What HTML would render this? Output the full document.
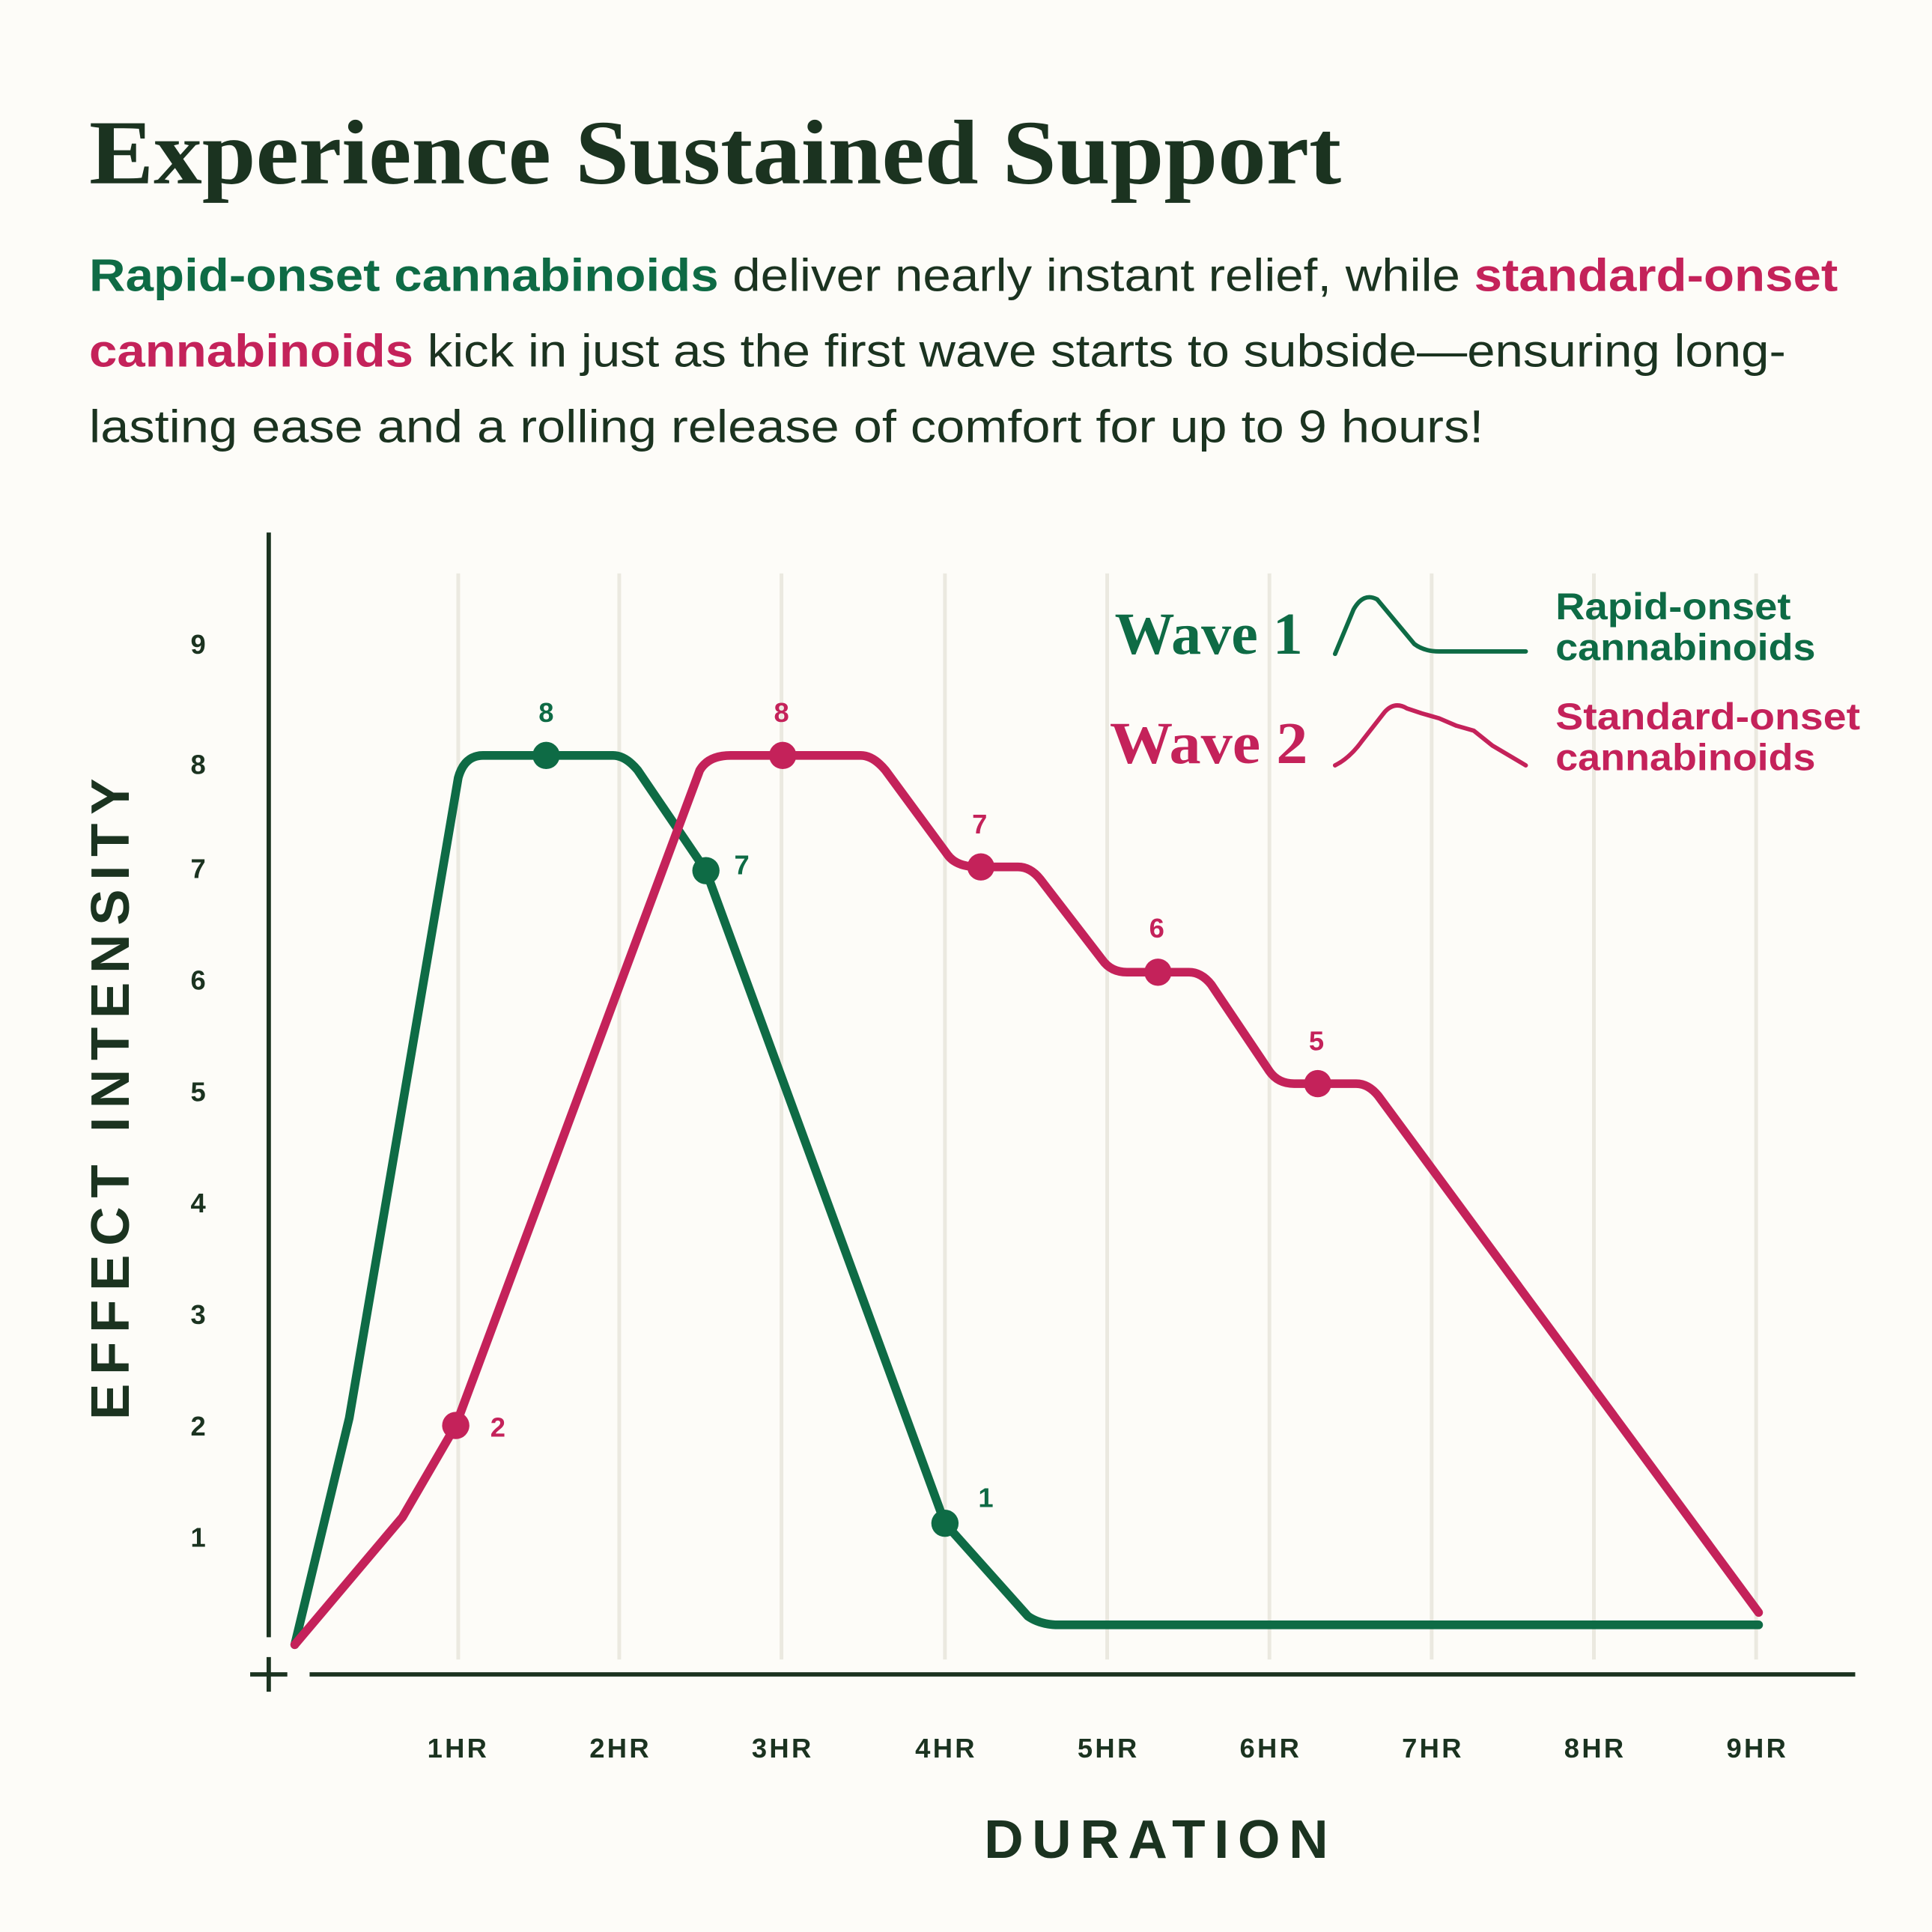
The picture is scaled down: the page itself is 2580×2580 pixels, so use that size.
<!DOCTYPE html>
<html><head><meta charset="utf-8"><style>
html,body{margin:0;padding:0;background:#fdfcf8}
svg{display:block}
text{font-family:"Liberation Sans",sans-serif}
.s{font-family:"Liberation Serif",serif;font-weight:bold}
</style></head><body>
<svg width="2580" height="2580" viewBox="0 0 1560 1560" xmlns="http://www.w3.org/2000/svg">
<rect width="1560" height="1560" fill="#fdfcf8"/>
<text class="s" x="72" y="148" font-size="74" fill="#1b3320" textLength="1011" lengthAdjust="spacingAndGlyphs">Experience Sustained Support</text>
<g font-size="37" fill="#1b3320">
<text x="72" y="235" textLength="1412" lengthAdjust="spacingAndGlyphs"><tspan fill="#0e6b45" font-weight="bold">Rapid-onset cannabinoids</tspan> deliver nearly instant relief, while <tspan fill="#c4225a" font-weight="bold">standard-onset</tspan></text>
<text x="72" y="296" textLength="1370" lengthAdjust="spacingAndGlyphs"><tspan fill="#c4225a" font-weight="bold">cannabinoids</tspan> kick in just as the first wave starts to subside—ensuring long-</text>
<text x="72" y="357" textLength="1126" lengthAdjust="spacingAndGlyphs">lasting ease and a rolling release of comfort for up to 9 hours!</text>
</g>
<g stroke="#ebe9e0" stroke-width="3">
<line x1="370" y1="463" x2="370" y2="1340"/><line x1="500" y1="463" x2="500" y2="1340"/><line x1="631" y1="463" x2="631" y2="1340"/><line x1="763" y1="463" x2="763" y2="1340"/><line x1="894" y1="463" x2="894" y2="1340"/><line x1="1025" y1="463" x2="1025" y2="1340"/><line x1="1156" y1="463" x2="1156" y2="1340"/><line x1="1287" y1="463" x2="1287" y2="1340"/><line x1="1418" y1="463" x2="1418" y2="1340"/>
</g>
<g stroke="#1b3320" stroke-width="3.5">
<line x1="217" y1="430" x2="217" y2="1322"/>
<line x1="250" y1="1352" x2="1498" y2="1352"/>
<line x1="217" y1="1338" x2="217" y2="1366"/><line x1="202" y1="1352" x2="232" y2="1352"/>
</g>
<g font-size="22" font-weight="bold" fill="#1b3320" text-anchor="middle" letter-spacing="2">
<text x="370" y="1419">1HR</text><text x="501" y="1419">2HR</text><text x="632" y="1419">3HR</text><text x="764" y="1419">4HR</text><text x="895" y="1419">5HR</text><text x="1026" y="1419">6HR</text><text x="1157" y="1419">7HR</text><text x="1288" y="1419">8HR</text><text x="1419" y="1419">9HR</text>
</g>
<g font-size="22" font-weight="bold" fill="#1b3320" text-anchor="middle">
<text x="160" y="528">9</text><text x="160" y="625">8</text><text x="160" y="709">7</text><text x="160" y="799">6</text><text x="160" y="889">5</text><text x="160" y="979">4</text><text x="160" y="1069">3</text><text x="160" y="1159">2</text><text x="160" y="1249">1</text>
</g>
<text x="937" y="1500" font-size="44" font-weight="bold" fill="#1b3320" text-anchor="middle" letter-spacing="7">DURATION</text>
<text transform="translate(104,884) rotate(-90)" font-size="44" font-weight="bold" fill="#1b3320" text-anchor="middle" letter-spacing="7">EFFECT INTENSITY</text>
<path d="M238,1328 L282,1145 L370,628 Q375,610 390,610 L495,610 Q505,610 515,622 L570,703 L763,1230 L830,1305 Q840,1312 855,1312 L1420,1312" fill="none" stroke="#0e6b45" stroke-width="7" stroke-linejoin="round" stroke-linecap="round"/>
<path d="M238,1328 L325,1225 L368,1151 L565,622 Q572,610 590,610 L695,610 Q705,610 715,622 L765,690 Q772,700 790,700 L822,700 Q832,700 840,710 L890,775 Q897,785 910,785 L960,785 Q970,785 978,795 L1025,865 Q1032,875 1045,875 L1095,875 Q1105,875 1113,885 L1420,1302" fill="none" stroke="#c4225a" stroke-width="7" stroke-linejoin="round" stroke-linecap="round"/>
<g fill="#0e6b45"><circle cx="441" cy="610" r="11"/><circle cx="570" cy="703" r="11"/><circle cx="763" cy="1230" r="11"/></g>
<g fill="#c4225a"><circle cx="368" cy="1151" r="11"/><circle cx="632" cy="610" r="11"/><circle cx="792" cy="700" r="11"/><circle cx="935" cy="785" r="11"/><circle cx="1064" cy="875" r="11"/></g>
<g font-size="22" font-weight="bold" text-anchor="middle">
<text x="441" y="583" fill="#0e6b45">8</text><text x="599" y="706" fill="#0e6b45">7</text><text x="796" y="1217" fill="#0e6b45">1</text>
<text x="402" y="1160" fill="#c4225a">2</text><text x="631" y="583" fill="#c4225a">8</text><text x="791" y="673" fill="#c4225a">7</text><text x="934" y="757" fill="#c4225a">6</text><text x="1063" y="848" fill="#c4225a">5</text>
</g>
<text class="s" x="900" y="528" font-size="48" fill="#0e6b45" textLength="152" lengthAdjust="spacingAndGlyphs">Wave 1</text>
<text class="s" x="896" y="616" font-size="48" fill="#c4225a" textLength="160" lengthAdjust="spacingAndGlyphs">Wave 2</text>
<path d="M1078,528 L1093,492 Q1101,478 1112,484 L1142,520 Q1150,526 1162,526 L1232,526" fill="none" stroke="#0e6b45" stroke-width="3.5" stroke-linecap="round"/>
<path d="M1078,618 Q1090,612 1100,598 L1118,575 Q1126,566 1136,572 L1148,576 L1162,580 L1176,586 L1190,590 L1205,602 L1232,618" fill="none" stroke="#c4225a" stroke-width="3.5" stroke-linecap="round" stroke-linejoin="round"/>
<g font-size="30" font-weight="bold">
<text x="1256" y="500" fill="#0e6b45" textLength="190" lengthAdjust="spacingAndGlyphs">Rapid-onset</text>
<text x="1256" y="533" fill="#0e6b45" textLength="210" lengthAdjust="spacingAndGlyphs">cannabinoids</text>
<text x="1256" y="589" fill="#c4225a" textLength="246" lengthAdjust="spacingAndGlyphs">Standard-onset</text>
<text x="1256" y="622" fill="#c4225a" textLength="210" lengthAdjust="spacingAndGlyphs">cannabinoids</text>
</g>
</svg>
</body></html>
